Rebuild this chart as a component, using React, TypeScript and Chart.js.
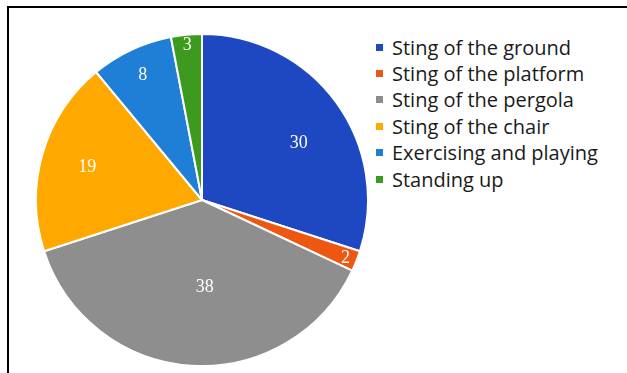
import React, { useEffect, useRef } from "react";
import { Chart, registerables } from "chart.js";

Chart.register(...registerables);

const categories = [
  "Sting of the ground",
  "Sting of the platform",
  "Sting of the pergola",
  "Sting of the chair",
  "Exercising and playing",
  "Standing up",
];
const values = [30, 2, 38, 19, 8, 3];
const colors = ["#1d48c2", "#ee5712", "#8e8e8e", "#ffa900", "#1f7fd6", "#3c9a1e"];
const labelRadiusFactors = [0.68, 0.93, 0.52, 0.72, 0.84, 0.94];
const labelAngleShiftDeg = [5, 0, -5.5, 0, 0, 0];

const labelPlugin = {
  id: "sliceLabels",
  afterDatasetsDraw(chart: any) {
    const ctx = chart.ctx;
    const meta = chart.getDatasetMeta(0);
    ctx.save();
    ctx.fillStyle = "#ffffff";
    ctx.font = "18px 'Liberation Serif', 'DejaVu Serif', serif";
    ctx.textAlign = "center";
    ctx.textBaseline = "middle";
    meta.data.forEach((arc: any, i: number) => {
      const p = arc.getProps(["x", "y", "startAngle", "endAngle", "outerRadius"], true);
      const mid = (p.startAngle + p.endAngle) / 2 + (labelAngleShiftDeg[i] * Math.PI) / 180;
      const r = p.outerRadius * labelRadiusFactors[i];
      ctx.fillText(String(values[i]), p.x + Math.cos(mid) * r, p.y + Math.sin(mid) * r + 1);
    });
    ctx.restore();
  },
};

export default function App() {
  const ref = useRef<HTMLCanvasElement>(null);
  useEffect(() => {
    document.body.style.margin = "0";
    const chart = new Chart(ref.current!, {
      type: "pie",
      data: {
        labels: categories,
        datasets: [
          {
            data: values,
            backgroundColor: colors,
            borderColor: "#ffffff",
            borderWidth: 2,
          },
        ],
      },
      options: {
        animation: false,
        responsive: false,
        maintainAspectRatio: false,
        layout: { padding: 0 },
        plugins: { legend: { display: false }, tooltip: { enabled: false } },
      },
      plugins: [labelPlugin],
    });
    return () => chart.destroy();
  }, []);

  return (
    <div style={{ position: "relative", width: 627, height: 373, background: "#fff", overflow: "hidden" }}>
      <div
        style={{
          position: "absolute",
          left: 7,
          top: 6,
          width: 640,
          height: 400,
          borderLeft: "2px solid #000",
          borderTop: "2px solid #000",
        }}
      />
      <canvas
        ref={ref}
        width={334}
        height={334}
        style={{ position: "absolute", left: 35, top: 33, width: 334, height: 334 }}
      />
      <div style={{ position: "absolute", left: 376, top: 34 }}>
        {categories.map((c, i) => (
          <div
            key={c}
            style={{
              display: "flex",
              alignItems: "center",
              height: 26.4,
              fontFamily: "'Open Sans', 'Noto Sans', sans-serif",
              fontSize: 20,
              color: "#1a1a1a",
              whiteSpace: "nowrap",
            }}
          >
            <span
              style={{ display: "inline-block", width: 7, height: 7, background: colors[i], marginRight: 9 }}
            />
            <span>{c}</span>
          </div>
        ))}
      </div>
    </div>
  );
}
